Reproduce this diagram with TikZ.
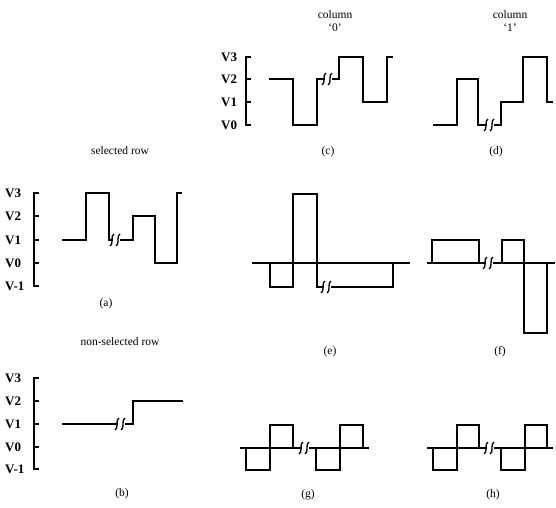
\documentclass[tikz,border=0pt]{standalone}
\usepackage{fontspec}
\setmainfont{Liberation Serif}
\usetikzlibrary{positioning}
\newcommand\brk[2]{%
	\draw[sig] (#1-4,#2+6) .. controls (#1,#2+5) and (#1-4,#2-5) .. (#1,#2-6);
	\draw[sig] (#1+2,#2+6) .. controls (#1+6,#2+5) and (#1+2,#2-5) .. (#1+6,#2-6);}
\newcommand\vaxis[3]{%
	\draw[sig] (#1+5,#2) -| (#1,#3) -- (#1+5,#3);}

\begin{document}
\begin{tikzpicture}[x=1pt,y=-1pt,
		sig/.style={line width=1.3pt,line join=miter},
		vlab/.style={anchor=west,inner sep=0pt,font=\fontsize{13}{14}\selectfont\bfseries},
		lbl/.style={inner sep=0pt,font=\fontsize{11.5}{12}\selectfont}]
	\useasboundingbox (0,0) rectangle (556,507);

	\node[lbl] (col0) at (335,15) {column};
	\node[lbl,below=4pt of col0] (q0) {`0'};
	\node[lbl] (col1) at (510,15) {column};
	\node[lbl,below=4pt of col1] (q1) {`1'};
	\node[lbl] (selrow) at (120,151) {selected row};
	\node[lbl] (nonrow) at (120,342) {non-selected row};

	\node[lbl] (capa) at (106,304) {(a)};
	\node[lbl] (capb) at (122,494) {(b)};
	\node[lbl] (capc) at (328,152) {(c)};
	\node[lbl] (capd) at (496,152) {(d)};
	\node[lbl] (cape) at (330,352) {(e)};
	\node[lbl] (capf) at (500,352) {(f)};
	\node[lbl] (capg) at (308,495) {(g)};
	\node[lbl] (caph) at (493,495) {(h)};

	% voltage axes
	\vaxis{246}{57}{125}
	\foreach \v/\t in {57/V3,79/V2,102/V1,125/V0}{
		\draw[sig] (246,\v) -- (251,\v);
		\node[vlab] (c-\t) at (221,\v) {\t};}
	\vaxis{34}{193}{286}
	\foreach \v/\t in {193/V3,216/V2,240/V1,263/V0,286/V-1}{
		\draw[sig] (34,\v) -- (39,\v);
		\node[vlab] (a-\t) at (5,\v) {\t};}
	\vaxis{34}{378}{469}
	\foreach \v/\t in {378/V3,401/V2,424/V1,447/V0,469/V-1}{
		\draw[sig] (34,\v) -- (39,\v);
		\node[vlab] (b-\t) at (5,\v) {\t};}

	% (c)
	\draw[sig] (269,79) -- (293,79) -- (293,125) -- (317,125) -- (317,79) -- (325,79);
	\draw[sig] (332,79) -- (339,79) -- (339,57) -- (363,57) -- (363,102) -- (387,102) -- (387,57) -- (393,57);
	\brk{326}{79}
	% (d)
	\draw[sig] (433,125) -- (457,125) -- (457,79) -- (478,79) -- (478,125) -- (487,125);
	\draw[sig] (494,125) -- (501,125) -- (501,102) -- (523,102) -- (523,57) -- (547,57) -- (547,102) -- (553,102);
	\brk{488}{125}
	% (a)
	\draw[sig] (62,240) -- (86,240) -- (86,193) -- (109,193) -- (109,240) -- (113,240);
	\draw[sig] (120,240) -- (133,240) -- (133,216) -- (155,216) -- (155,263) -- (177,263) -- (177,193) -- (182,193);
	\brk{114}{240}
	% (b)
	\draw[sig] (62,424) -- (118,424);
	\draw[sig] (125,424) -- (133,424) -- (133,401) -- (183,401);
	\brk{119}{424}
	% (e)
	\draw[sig] (252,263) -- (410,263);
	\draw[sig] (270,263) -- (270,287) -- (293,287) -- (293,194) -- (317,194) -- (317,287) -- (324,287);
	\draw[sig] (331,287) -- (393,287) -- (393,263);
	\brk{325}{287}
	% (f)
	\draw[sig] (427,263) -- (486,263);
	\draw[sig] (493,263) -- (555,263);
	\brk{487}{263}
	\draw[sig] (432,263) -- (432,240) -- (479,240) -- (479,263);
	\draw[sig] (502,263) -- (502,240) -- (524,240) -- (524,333) -- (547,333) -- (547,263);
	% (g)
	\draw[sig] (240,448) -- (302,448);
	\draw[sig] (309,448) -- (369,448);
	\brk{303}{448}
	\foreach \x in {246,316}
		\draw[sig] (\x,448) -- (\x,470) -- (\x+24,470) -- (\x+24,425) -- (\x+47,425) -- (\x+47,448);
	% (h)
	\draw[sig] (427,448) -- (487,448);
	\draw[sig] (494,448) -- (553,448);
	\brk{488}{448}
	\foreach \x in {433,501}
		\draw[sig] (\x,448) -- (\x,470) -- (\x+24,470) -- (\x+24,425) -- (\x+46,425) -- (\x+46,448);
\end{tikzpicture}
\end{document}
